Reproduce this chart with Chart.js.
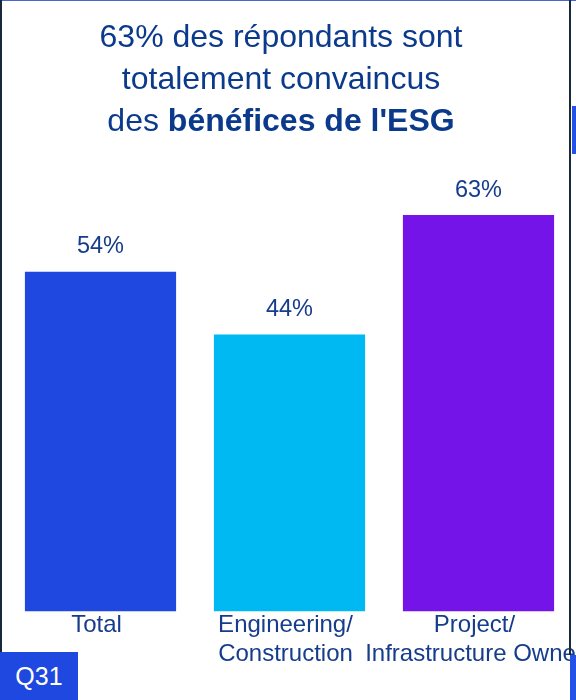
<!DOCTYPE html>
<html>
<head>
<meta charset="utf-8">
<script src="https://cdn.jsdelivr.net/npm/chart.js@4.4.1/dist/chart.umd.min.js"></script>
<style>
  html, body { margin: 0; padding: 0; background: #fff; }
  #wrap { position: relative; width: 576px; height: 700px; overflow: hidden; font-family: "Liberation Sans", Arial, sans-serif; }
  #chart { position: absolute; left: 0; top: 0; }
  #title { position: absolute; left: 0; top: 15px; width: 562px; text-align: center; color: #0b3a8c; font-size: 32px; line-height: 42px; }
  #title b { font-weight: bold; }
  .edge { position: absolute; }
  #q31 { position: absolute; left: 0; top: 652px; width: 78px; height: 48px; background: #1f48e0; color: #fff; font-size: 25px; line-height: 48px; text-align: center; }
</style>
</head>
<body>
<div id="wrap">
  <canvas id="chart" width="576" height="700"></canvas>
  <div id="title">63% des répondants sont<br>totalement convaincus<br>des <b>bénéfices de l'ESG</b></div>
  <div class="edge" style="left:0;top:0;width:576px;height:1px;background:#4a66cc"></div>
  <div class="edge" style="left:0;top:0;width:2px;height:652px;background:#18293d"></div>
  <div class="edge" style="left:569px;top:0;width:2px;height:655px;background:#18293d"></div>
  <div class="edge" style="left:572px;top:106px;width:4px;height:48px;background:#2452e6"></div>
  <div class="edge" style="left:570px;top:655px;width:6px;height:45px;background:#2452e6"></div>
  <div id="q31">Q31</div>
</div>
<script>
// chart data
const categories = ['Total', ['Engineering/', 'Construction'], ['Project/', 'Infrastructure Owner']];
const values = [54, 44, 63];
const barColors = ['#1f48e0', '#00b9f2', '#7414e8'];

// percentage above each bar
const valueLabels = {
  id: 'valueLabels',
  afterDatasetsDraw(chart) {
    const ctx = chart.ctx;
    const meta = chart.getDatasetMeta(0);
    ctx.save();
    ctx.font = '23.5px "Liberation Sans", Arial, sans-serif';
    ctx.fillStyle = '#163c8c';
    ctx.textAlign = 'center';
    ctx.textBaseline = 'middle';
    meta.data.forEach((bar, i) => {
      ctx.fillText(values[i] + '%', bar.x, bar.y - 25);
    });
    ctx.restore();
  }
};

new Chart(document.getElementById('chart'), {
  type: 'bar',
  data: {
    labels: categories,
    datasets: [{
      data: values,
      backgroundColor: barColors,
      categoryPercentage: 1.0,
      barPercentage: 0.8
    }]
  },
  options: {
    responsive: false,
    animation: false,
    layout: { padding: { top: 171, left: 6, right: 3, bottom: 31 } },
    plugins: { legend: { display: false }, tooltip: { enabled: false } },
    scales: {
      x: {
        grid: { display: false, drawTicks: false },
        border: { display: false },
        ticks: {
          color: '#163c8c',
          padding: 0,
          labelOffset: -4,
          maxRotation: 0,
          autoSkip: false,
          font: { family: '"Liberation Sans", Arial, sans-serif', size: 24, lineHeight: 1.2 }
        },
        afterFit(scale) {
          scale.paddingLeft = 0;
          scale.paddingRight = 0;
        }
      },
      y: {
        display: false,
        min: 0,
        max: 70
      }
    }
  },
  plugins: [valueLabels]
});
</script>
</body>
</html>
